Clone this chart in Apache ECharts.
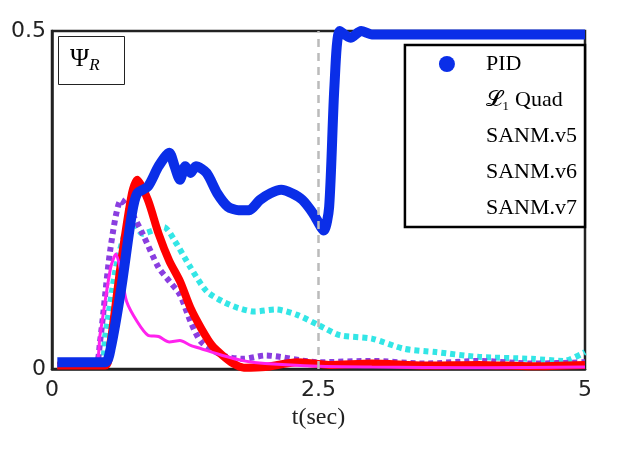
<!DOCTYPE html>
<html><head><meta charset="utf-8">
<script src="https://cdn.jsdelivr.net/npm/echarts@6/dist/echarts.min.js"></script>
<style>html,body{margin:0;background:#fff}#c{width:618px;height:454px}</style>
</head><body><div id="c"></div>
<script>
// t (sec), value pairs
const pid = [[0.05,0.01],[0.5,0.01],[0.55,0.03],[0.65,0.12],[0.75,0.23],[0.8,0.26],[0.9,0.27],[1.0,0.3],[1.1,0.32],[1.15,0.3],[1.2,0.28],[1.25,0.3],[1.3,0.29],[1.35,0.3],[1.45,0.29],[1.55,0.26],[1.65,0.24],[1.75,0.235],[1.85,0.235],[1.95,0.25],[2.05,0.26],[2.15,0.265],[2.25,0.26],[2.35,0.25],[2.45,0.23],[2.55,0.205],[2.6,0.24],[2.65,0.42],[2.7,0.5],[2.8,0.49],[2.9,0.5],[3.0,0.495],[3.5,0.495],[4.0,0.495],[4.5,0.495],[5.0,0.495]];
const l1 = [[0.05,0.005],[0.5,0.005],[0.55,0.04],[0.65,0.16],[0.75,0.26],[0.8,0.28],[0.9,0.25],[1.0,0.2],[1.1,0.16],[1.2,0.13],[1.3,0.09],[1.4,0.06],[1.5,0.035],[1.6,0.02],[1.7,0.008],[1.8,0.002],[2.0,0.003],[2.3,0.01],[2.6,0.006],[3.0,0.008],[3.5,0.005],[4.0,0.006],[4.5,0.004],[5.0,0.006]];
const v5 = [[0.05,0.005],[0.45,0.005],[0.5,0.05],[0.6,0.15],[0.7,0.21],[0.75,0.22],[0.85,0.2],[0.95,0.205],[1.05,0.21],[1.15,0.19],[1.3,0.15],[1.45,0.115],[1.6,0.1],[1.75,0.09],[1.9,0.085],[2.1,0.088],[2.3,0.08],[2.5,0.065],[2.7,0.05],[3.0,0.045],[3.3,0.03],[3.6,0.025],[4.0,0.018],[4.5,0.015],[4.8,0.012],[5.0,0.025]];
const v6 = [[0.05,0.005],[0.4,0.005],[0.45,0.04],[0.55,0.18],[0.65,0.25],[0.75,0.23],[0.85,0.2],[1.0,0.15],[1.1,0.13],[1.2,0.11],[1.3,0.07],[1.4,0.04],[1.6,0.02],[1.8,0.015],[2.0,0.02],[2.5,0.01],[3.0,0.012],[3.5,0.008],[4.0,0.012],[4.5,0.008],[5.0,0.01]];
const v7 = [[0.05,0.005],[0.4,0.005],[0.45,0.05],[0.55,0.15],[0.6,0.17],[0.65,0.14],[0.7,0.1],[0.8,0.07],[0.9,0.05],[1.0,0.048],[1.1,0.04],[1.2,0.042],[1.3,0.035],[1.4,0.03],[1.6,0.02],[1.8,0.012],[2.0,0.008],[2.5,0.004],[3.0,0.003],[4.0,0.002],[5.0,0.003]];
const xTicks = [0, 2.5, 5];
const yTicks = [0, 0.5];

const serif = 'Liberation Serif';
const chart = echarts.init(document.getElementById('c'));
const ln = (name, data, color, width, type, extra) => Object.assign({
  name, type: 'line', data, symbol: 'none', smooth: 0.25,
  lineStyle: { color, width, type }, itemStyle: { color }
}, extra || {});
const leg = (name, w, type, icon) => ({ name, icon: icon || 'none', lineStyle: { width: w, type } });

chart.setOption({
  animation: false,
  grid: { left: 52, right: 33, top: 31, bottom: 85, show: true, borderColor: '#222', borderWidth: 2.5 },
  xAxis: {
    type: 'value', min: 0, max: 5, interval: 2.5,
    name: 't(sec)', nameLocation: 'middle', nameGap: 18,
    nameTextStyle: { fontFamily: serif, fontSize: 24, color: '#222' },
    axisLine: { lineStyle: { color: '#222', width: 2.5 } },
    axisTick: { show: false }, splitLine: { show: false },
    axisLabel: { fontFamily: 'DejaVu Sans', fontSize: 22, color: '#222', margin: 10,
      formatter: v => xTicks.includes(v) ? String(v) : '' }
  },
  yAxis: {
    type: 'value', min: 0, max: 0.5, interval: 0.5,
    axisLine: { show: true, lineStyle: { color: '#222', width: 2.5 } },
    axisTick: { show: false }, splitLine: { show: false },
    axisLabel: { fontFamily: 'DejaVu Sans', fontSize: 22, color: '#222', margin: 6,
      formatter: v => yTicks.includes(v) ? String(v) : '' }
  },
  legend: {
    orient: 'vertical', right: 33, top: 45, itemWidth: 68, itemHeight: 16, itemGap: 14,
    backgroundColor: '#fff', borderColor: '#000', borderWidth: 2.5, borderRadius: 0,
    padding: [8, 8, 8, 8],
    textStyle: { fontFamily: serif, fontSize: 22, color: '#000' },
    data: [
      { name: 'PID', icon: 'circle', lineStyle: { width: 9 } },
      leg('𝓛₁ Quad', 8, 'solid'),
      leg('SANM.v5', 6, [5, 4]),
      leg('SANM.v6', 6, [5, 4]),
      leg('SANM.v7', 3, 'solid')
    ]
  },
  graphic: [
    { type: 'rect', left: 58, top: 36, shape: { width: 66, height: 48 },
      style: { fill: '#fff', stroke: '#222', lineWidth: 1 } },
    { type: 'text', left: 70, top: 46, style: {
      text: '{a|Ψ}{b|R}', rich: {
        a: { fontFamily: serif, fontSize: 26, fill: '#000' },
        b: { fontFamily: serif, fontStyle: 'italic', fontSize: 17, fill: '#000', padding: [14, 0, 0, 0] } } } }
  ],
  series: [
    ln('SANM.v5', v5, '#33e6e6', 6, [5, 4]),
    ln('SANM.v6', v6, '#8a3ee0', 6, [5, 4]),
    ln('𝓛₁ Quad', l1, '#ff0000', 8, 'solid'),
    ln('SANM.v7', v7, '#ff22ee', 3, 'solid'),
    ln('PID', pid, '#0a2ee8', 10, 'solid', {
      symbol: 'circle', symbolSize: 12, showSymbol: false,
      markLine: { silent: true, symbol: 'none', label: { show: false },
        lineStyle: { color: '#bbb', type: [8, 6], width: 2.5 }, data: [{ xAxis: 2.5 }] }
    })
  ]
});
</script></body></html>
